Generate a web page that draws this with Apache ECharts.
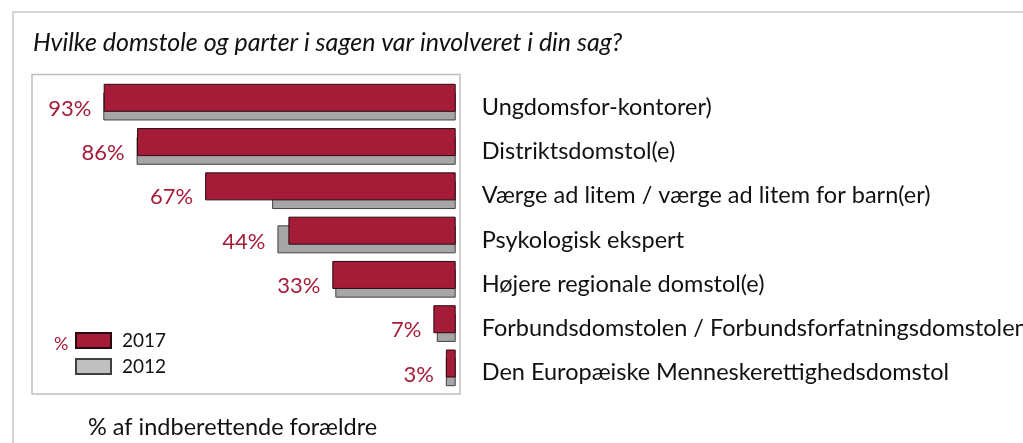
<!DOCTYPE html>
<html>
<head>
<meta charset="utf-8">
<script src="https://cdn.jsdelivr.net/npm/echarts@6/dist/echarts.min.js"></script>
<style>
  html, body { margin: 0; padding: 0; background: #fff; }
  #chart { width: 1023px; height: 443px; }
</style>
</head>
<body>
<div id="chart"></div>
<script>
const categories = [
  'Ungdomsfor-kontorer)',
  'Distriktsdomstol(e)',
  'Værge ad litem / værge ad litem for barn(er)',
  'Psykologisk ekspert',
  'Højere regionale domstol(e)',
  'Forbundsdomstolen / Forbundsforfatningsdomstolen',
  'Den Europæiske Menneskerettighedsdomstol',
];
const values2017 = [93.0, 84.2, 66.2, 44.2, 32.6, 5.9, 2.6];
const values2012 = [93.1, 84.3, 48.5, 47.1, 31.8, 5.0, 2.6];
const labels2017 = ['93%', '86%', '67%', '44%', '33%', '7%', '3%'];

const RED = '#a51c38';
const FONT = 'Lato';

const gridLeft = 77.2;
const gridWidth = 378.5;
const pxPerUnit = gridWidth / 100;

const chart = echarts.init(document.getElementById('chart'));

const option = {
  animation: false,
  textStyle: { fontFamily: FONT },
  grid: {
    left: gridLeft,
    width: gridWidth,
    top: 80,
    height: 310,
    containLabel: false,
    outerBoundsMode: 'none',
  },
  xAxis: {
    type: 'value',
    min: 0,
    max: 100,
    inverse: true,
    show: false,
  },
  yAxis: {
    type: 'category',
    data: categories,
    inverse: true,
    position: 'right',
    axisLine: { show: false },
    axisTick: { show: false },
    axisLabel: {
      margin: 26,
      color: '#111',
      fontSize: 23.5,
      fontFamily: FONT,
      verticalAlign: 'top',
      lineHeight: 10,
    },
  },
  legend: {
    orient: 'vertical',
    left: 75,
    top: 331,
    padding: 0,
    icon: 'rect',
    itemWidth: 35,
    itemHeight: 15,
    itemGap: 7,
    textStyle: { fontSize: 19, color: '#111', padding: [10, 0, 0, 6], fontFamily: FONT },
    data: [
      { name: '2017' },
      { name: '2012', itemStyle: { color: '#c0c0c0' } },
    ],
  },
  graphic: [
    {
      type: 'rect',
      silent: true,
      shape: { x: 13, y: 12, width: 1100, height: 500 },
      style: { fill: 'none', stroke: '#c8c8c8', lineWidth: 1.5 },
    },
    {
      type: 'rect',
      silent: true,
      shape: { x: 32, y: 74.5, width: 428, height: 319.5 },
      style: { fill: 'none', stroke: '#bfbfbf', lineWidth: 1.5 },
    },
    {
      type: 'text',
      left: 33,
      top: 30,
      style: {
        text: 'Hvilke domstole og parter i sagen var involveret i din sag?',
        fontSize: 25,
        fontStyle: 'italic',
        fontFamily: FONT,
        fill: '#111',
      },
    },
    {
      type: 'text',
      left: 54,
      top: 335,
      style: { text: '%', fontSize: 18, fontFamily: FONT, fill: RED },
    },
    {
      type: 'text',
      left: 88,
      top: 415,
      style: {
        text: '% af indberettende forældre',
        fontSize: 23.5,
        fontFamily: FONT,
        fill: '#111',
      },
    },
  ],
  series: [
    {
      name: '2017',
      type: 'bar',
      barWidth: 28,
      barGap: '-69%',
      z: 3,
      itemStyle: { color: RED, borderColor: '#2a0a10', borderWidth: 1 },
      label: {
        show: true,
        position: 'left',
        offset: [0, 11],
        color: RED,
        fontSize: 22,
        fontFamily: FONT,
      },
      data: values2017.map((v, i) => ({
        value: v,
        label: {
          distance: 12 + Math.max(0, values2012[i] - v) * pxPerUnit,
          formatter: labels2017[i],
        },
      })),
    },
    {
      name: '2012',
      type: 'bar',
      barWidth: 28,
      barGap: '-69%',
      z: 2,
      itemStyle: { color: '#a6a6a6', borderColor: '#404040', borderWidth: 1 },
      data: values2012,
    },
  ],
};

chart.setOption(option);
</script>
</body>
</html>
